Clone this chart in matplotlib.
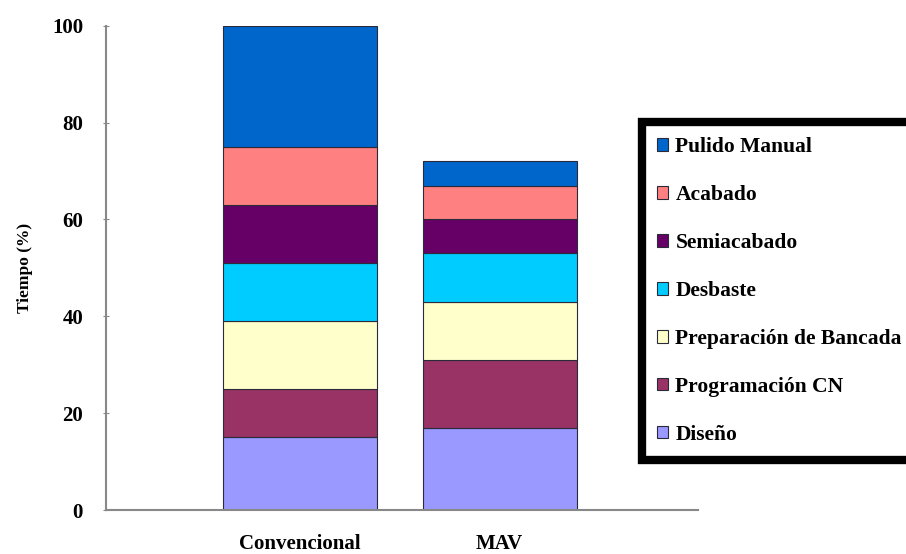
import numpy as np
import matplotlib
matplotlib.use("Agg")
from matplotlib import pyplot as plt

categories = ["Convencional", "MAV"]
etapas = ["Diseño", "Programación CN", "Preparación de Bancada", "Desbaste",
          "Semiacabado", "Acabado", "Pulido Manual"]
# tiempo (%) por etapa, de abajo hacia arriba
diseno = [15, 17]
programacion = [10, 14]
preparacion = [14, 12]
desbaste = [12, 10]
semiacabado = [12, 7]
acabado = [12, 7]
pulido = [25, 5]
colores = ["#9999FF", "#993366", "#FFFFCC", "#00CCFF", "#660066", "#FF8080", "#0066CC"]

plt.rcParams["font.family"] = ["Liberation Serif", "DejaVu Serif"]
plt.rcParams["font.weight"] = "bold"

fig = plt.figure(figsize=(9.06, 5.54), dpi=100)
ax = fig.add_axes([0.117, 0.0794, 0.653, 0.874])

series = [diseno, programacion, preparacion, desbaste, semiacabado, acabado, pulido]
x = np.arange(len(categories))
bottom = np.zeros(len(categories))
handles = []
for vals, col, name in zip(series, colores, etapas):
    b = ax.bar(x, vals, 0.77, bottom=bottom, color=col, edgecolor="#2a2a3a",
               linewidth=0.8, label=name)
    handles.append(b)
    bottom += np.array(vals)

ax.set_xlim(-0.97, 1.99)
ax.set_ylim(0, 100)
ax.set_yticks(range(0, 101, 20))
ax.set_xticks(x)
ax.set_xticklabels(categories, fontsize=15, fontweight="bold")
ax.tick_params(axis="x", length=0, pad=17)
ax.tick_params(axis="y", direction="inout", length=5, color="#888888", labelsize=15, pad=14)
for lab in ax.get_yticklabels():
    lab.set_fontweight("bold")
ax.set_ylabel("Tiempo (%)", fontsize=12.5, fontweight="bold", labelpad=14)
for s in ["top", "right"]:
    ax.spines[s].set_visible(False)
for s in ["left", "bottom"]:
    ax.spines[s].set_color("#888888")
    ax.spines[s].set_linewidth(1.5)

leg = fig.legend(handles[::-1], etapas[::-1], loc="upper left",
                 bbox_to_anchor=(642 / 906, 1 - 122 / 554), bbox_transform=fig.transFigure,
                 prop={"family": "Liberation Serif", "weight": "bold", "size": 15.5},
                 handlelength=0.5, handleheight=0.5, handletextpad=0.35,
                 labelspacing=1.3, borderpad=0.7, borderaxespad=0, fancybox=False,
                 framealpha=1, edgecolor="black")
leg.get_frame().set_linewidth(6)

fig.savefig("out.png", dpi=100)
